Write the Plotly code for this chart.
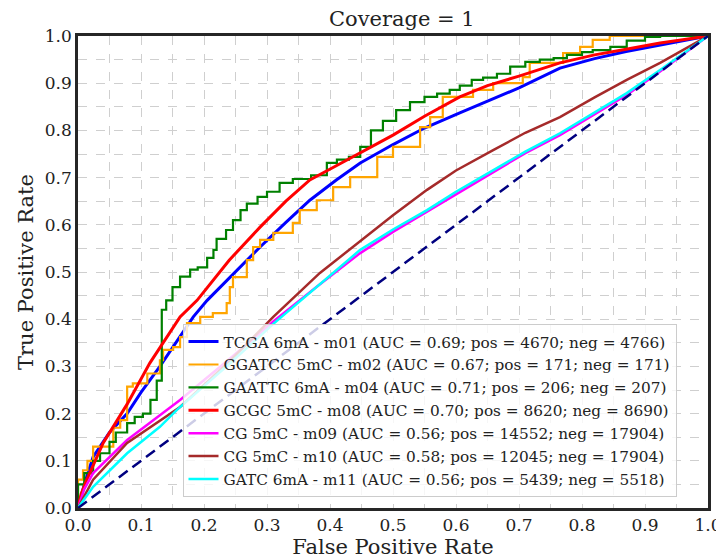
import plotly.graph_objects as go

# ---- data ----
labels = [
    "TCGA 6mA - m01 (AUC = 0.69; pos = 4670; neg = 4766)",
    "GGATCC 5mC - m02 (AUC = 0.67; pos = 171; neg = 171)",
    "GAATTC 6mA - m04 (AUC = 0.71; pos = 206; neg = 207)",
    "GCGC 5mC - m08 (AUC = 0.70; pos = 8620; neg = 8690)",
    "CG 5mC - m09 (AUC = 0.56; pos = 14552; neg = 17904)",
    "CG 5mC - m10 (AUC = 0.58; pos = 12045; neg = 17904)",
    "GATC 6mA - m11 (AUC = 0.56; pos = 5439; neg = 5518)",
]

blue_fpr = [0, 0.01, 0.024, 0.05, 0.078, 0.1, 0.13, 0.16, 0.183, 0.205, 0.25, 0.289, 0.33, 0.368,
            0.41, 0.448, 0.5, 0.55, 0.606, 0.65, 0.7, 0.765, 0.82, 0.87, 0.924, 0.96, 1.0]
blue_tpr = [0, 0.05, 0.108, 0.16, 0.20, 0.245, 0.30, 0.36, 0.405, 0.44, 0.50, 0.553, 0.605, 0.652,
            0.695, 0.731, 0.77, 0.805, 0.837, 0.862, 0.89, 0.932, 0.952, 0.967, 0.981, 0.99, 1.0]

orange_fpr = [0, 0, 0.008, 0.015, 0.024, 0.04, 0.056, 0.067, 0.078, 0.087, 0.11, 0.13, 0.135, 0.151,
              0.162, 0.173, 0.194, 0.214, 0.236, 0.241, 0.246, 0.268, 0.278, 0.289, 0.31, 0.341, 0.352,
              0.379, 0.405, 0.432, 0.475, 0.5, 0.543, 0.559, 0.579, 0.627, 0.659, 0.706, 0.717, 0.77,
              0.797, 0.817, 0.844, 0.865, 1.0]
orange_tpr = [0, 0.03, 0.06, 0.08, 0.1, 0.13, 0.13, 0.17, 0.186, 0.257, 0.264, 0.285, 0.313, 0.335,
              0.341, 0.362, 0.392, 0.405, 0.413, 0.434, 0.468, 0.489, 0.525, 0.553, 0.568, 0.583, 0.604,
              0.631, 0.652, 0.68, 0.701, 0.744, 0.765, 0.807, 0.828, 0.871, 0.886, 0.9, 0.913, 0.943,
              0.964, 0.977, 0.992, 1.0, 1.0]

green_fpr = [0, 0, 0.01, 0.024, 0.035, 0.05, 0.06, 0.078, 0.09, 0.103, 0.115, 0.125, 0.133, 0.14,
             0.15, 0.162, 0.178, 0.19, 0.205, 0.215, 0.22, 0.235, 0.246, 0.258, 0.268, 0.285, 0.3,
             0.32, 0.341, 0.37, 0.395, 0.411, 0.43, 0.448, 0.465, 0.484, 0.505, 0.527, 0.55, 0.57,
             0.59, 0.606, 0.625, 0.643, 0.665, 0.686, 0.71, 0.733, 0.755, 0.776, 0.8, 0.817, 0.845,
             0.871, 0.9, 0.924, 0.96, 1.0]
green_tpr = [0, 0.04, 0.05, 0.074, 0.1, 0.116, 0.14, 0.16, 0.18, 0.193, 0.2, 0.229, 0.27, 0.42,
             0.44, 0.468, 0.49, 0.505, 0.51, 0.53, 0.547, 0.57, 0.589, 0.61, 0.631, 0.645, 0.659,
             0.67, 0.689, 0.697, 0.705, 0.731, 0.738, 0.744, 0.765, 0.80, 0.82, 0.843, 0.86, 0.871,
             0.878, 0.886, 0.895, 0.907, 0.912, 0.92, 0.935, 0.945, 0.95, 0.953, 0.96, 0.966, 0.97,
             0.977, 0.99, 0.998, 1.0, 1.0]

red_fpr = [0, 0.005, 0.014, 0.04, 0.078, 0.114, 0.162, 0.189, 0.24, 0.289, 0.33, 0.368, 0.41, 0.448,
           0.5, 0.55, 0.606, 0.65, 0.7, 0.765, 0.82, 0.87, 0.924, 0.96, 1.0]
red_tpr = [0, 0.03, 0.06, 0.138, 0.22, 0.307, 0.405, 0.44, 0.525, 0.595, 0.65, 0.695, 0.725, 0.752,
           0.79, 0.83, 0.871, 0.895, 0.915, 0.943, 0.96, 0.972, 0.985, 0.992, 1.0]

magenta_fpr = [0, 0.01, 0.024, 0.078, 0.162, 0.24, 0.31, 0.38, 0.448, 0.5, 0.554, 0.6, 0.659, 0.71,
               0.765, 0.82, 0.871, 0.924, 0.96, 1.0]
magenta_tpr = [0, 0.04, 0.074, 0.144, 0.229, 0.315, 0.395, 0.47, 0.54, 0.585, 0.628, 0.665, 0.712,
               0.752, 0.79, 0.835, 0.875, 0.925, 0.96, 1.0]

brown_fpr = [0, 0.024, 0.078, 0.162, 0.24, 0.31, 0.384, 0.448, 0.5, 0.554, 0.6, 0.659, 0.71, 0.765,
             0.82, 0.871, 0.924, 0.96, 1.0]
brown_tpr = [0, 0.06, 0.138, 0.214, 0.31, 0.405, 0.498, 0.566, 0.62, 0.674, 0.715, 0.758, 0.795,
             0.828, 0.87, 0.907, 0.943, 0.97, 1.0]

cyan_fpr = [0, 0.024, 0.078, 0.13, 0.157, 0.24, 0.31, 0.38, 0.448, 0.5, 0.554, 0.6, 0.659, 0.71,
            0.765, 0.82, 0.871, 0.924, 0.96, 1.0]
cyan_tpr = [0, 0.045, 0.116, 0.172, 0.208, 0.305, 0.39, 0.47, 0.547, 0.59, 0.631, 0.67, 0.716,
            0.755, 0.794, 0.838, 0.879, 0.928, 0.962, 1.0]

diag = [0, 1]

series = [
    (blue_fpr, blue_tpr, "blue", "linear", 3),
    (orange_fpr, orange_tpr, "orange", "vh", 2.2),
    (green_fpr, green_tpr, "green", "vh", 2.2),
    (red_fpr, red_tpr, "red", "linear", 3),
    (magenta_fpr, magenta_tpr, "magenta", "linear", 2.5),
    (brown_fpr, brown_tpr, "brown", "linear", 2.5),
    (cyan_fpr, cyan_tpr, "cyan", "linear", 2.5),
]

FONT = "DejaVu Serif"

fig = go.Figure()
for i, ((fx, ty, col, shape, w), lab) in enumerate(zip(series, labels)):
    fig.add_trace(go.Scatter(x=fx, y=ty, mode="lines", name=lab, legendgroup=f"g{i}",
                             line=dict(color=col, width=w, shape=shape)))
fig.add_trace(go.Scatter(x=diag, y=diag, mode="lines", showlegend=False,
                         line=dict(color="navy", width=2.5, dash="11px,6px")))

axis_common = dict(
    range=[0, 1], dtick=0.1, tickformat=".1f", automargin=False,
    showgrid=True, gridcolor="#cfcfcf", griddash="dash", gridwidth=1,
    minor=dict(dtick=0.05, showgrid=True, gridcolor="#cfcfcf", griddash="dash", gridwidth=1),
    showline=True, mirror=True, linecolor="#262626", linewidth=2.5,
    zeroline=False, ticks="", tickfont=dict(family=FONT, size=17, color="#222"),
)

# The page body carries an 8px margin, so the figure is sized and offset to compensate.
fig.update_layout(
    width=716, height=551,
    margin=dict(l=70, r=16, t=28, b=51),
    paper_bgcolor="white", plot_bgcolor="white",
    title=dict(text="Coverage = 1", x=0.55, xanchor="center", y=0.981, yanchor="middle",
               font=dict(family=FONT, size=21, color="#222")),
    xaxis=dict(**axis_common, title=dict(text="False Positive Rate", standoff=4,
                                         font=dict(family=FONT, size=21, color="#222"))),
    yaxis=dict(**axis_common, title=dict(text="True Positive Rate", standoff=6,
                                         font=dict(family=FONT, size=21, color="#222"))),
    legend=dict(x=0.95, y=0.023, xanchor="right", yanchor="bottom",
                bgcolor="rgba(255,255,255,0.8)", bordercolor="#cccccc", borderwidth=1,
                font=dict(family=FONT, size=15.3, color="#222"), tracegroupgap=0,
                itemwidth=30),
    showlegend=True,
)

fig.write_html("out.html")
